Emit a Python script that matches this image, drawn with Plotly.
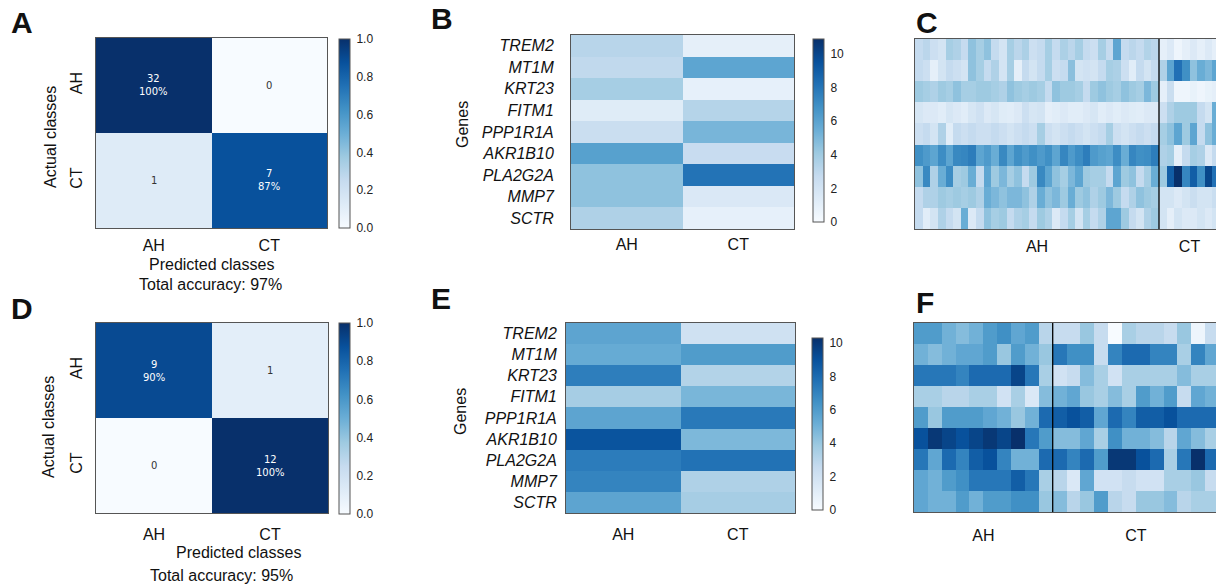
import plotly.graph_objects as go

W, H = 1216, 588

# ---------------- data ----------------
classes = ["AH", "CT"]
genes = ["TREM2", "MT1M", "KRT23", "FITM1", "PPP1R1A", "AKR1B10", "PLA2G2A", "MMP7", "SCTR"]

# confusion matrices (counts, rows = actual, cols = predicted)
cm_train_counts = [[32, 0], [1, 7]]
cm_test_counts = [[9, 1], [0, 12]]
acc_train = "Total accuracy: 97%"
acc_test = "Total accuracy: 95%"

# mean expression per class (panel B, training; panel E, test)
mean_train_AH = [3.2, 2.9, 3.8, 1.3, 2.5, 6.1, 4.5, 4.5, 3.5]
mean_train_CT = [1.0, 5.9, 0.9, 3.3, 5.1, 2.6, 8.1, 1.6, 0.9]
mean_test_AH = [5.6, 5.3, 7.2, 3.6, 5.6, 8.9, 7.3, 7.0, 5.6]
mean_test_CT = [2.1, 6.0, 3.2, 4.8, 7.4, 4.7, 7.7, 3.3, 3.6]

# per-sample expression (panel C: 32 AH + 8 CT training samples)
C_AH = [
    [2.75, 3.1, 2.4, 2.0, 3.8, 3.5, 2.75, 4.5, 3.8, 4.5, 2.75, 2.0, 3.8, 3.1, 3.6, 2.4,
     2.75, 3.8, 2.75, 3.6, 3.1, 3.8, 2.75, 2.4, 3.8, 2.75, 5.9, 2.75, 3.1, 2.75, 3.4, 3.1],
    [2.75, 2.4, 1.0, 2.0, 2.75, 2.4, 2.0, 4.5, 3.8, 2.75, 3.5, 2.0, 3.8, 1.0, 2.75, 2.0,
     2.75, 3.8, 2.4, 2.75, 4.6, 2.0, 2.2, 2.0, 2.75, 3.8, 3.6, 2.4, 1.2, 2.75, 2.0, 2.75],
    [4.1, 3.8, 3.5, 4.1, 3.8, 4.5, 3.8, 3.8, 4.1, 4.1, 3.8, 3.5, 4.5, 4.1, 3.8, 4.1,
     3.8, 2.75, 4.5, 4.1, 4.1, 3.8, 2.75, 4.1, 4.5, 4.1, 3.8, 4.5, 4.1, 3.8, 5.0, 4.1],
    [1.8, 1.5, 1.5, 1.2, 1.8, 1.5, 1.2, 1.8, 2.2, 1.5, 1.8, 1.3, 1.2, 1.5, 2.4, 1.8,
     2.0, 1.0, 1.2, 1.5, 1.2, 1.2, 1.5, 1.8, 1.2, 1.5, 1.2, 1.5, 1.3, 1.2, 1.5, 1.5],
    [2.4, 2.75, 2.0, 3.5, 1.2, 2.75, 2.4, 2.75, 2.4, 2.4, 2.75, 2.4, 2.0, 2.4, 2.75, 2.4,
     3.8, 2.4, 2.0, 2.4, 2.75, 2.4, 2.0, 2.4, 2.75, 3.8, 2.4, 2.0, 2.4, 2.75, 2.4, 2.75],
    [6.9, 6.4, 5.9, 7.0, 5.9, 7.2, 7.3, 7.7, 5.9, 6.4, 5.5, 7.2, 5.9, 6.9, 6.4, 6.9,
     6.4, 6.9, 5.9, 7.3, 6.4, 7.0, 7.7, 6.4, 6.1, 5.9, 7.0, 5.5, 7.3, 6.9, 7.0, 7.7],
    [4.5, 7.2, 3.5, 5.5, 7.0, 3.8, 4.1, 5.5, 2.75, 5.9, 4.1, 5.0, 3.8, 4.5, 2.75, 4.1,
     7.2, 5.9, 4.5, 3.8, 5.0, 5.9, 4.1, 3.8, 3.8, 2.75, 5.9, 4.1, 4.5, 2.75, 3.8, 5.5],
    [2.75, 3.5, 3.5, 4.1, 3.8, 4.1, 3.8, 4.1, 3.5, 5.5, 5.0, 4.5, 5.0, 5.0, 4.5, 3.5,
     5.5, 4.5, 5.0, 4.1, 5.5, 4.1, 4.5, 3.5, 4.1, 5.0, 4.1, 2.75, 3.5, 4.5, 4.1, 3.8],
    [2.75, 1.2, 2.0, 3.5, 2.75, 2.0, 5.5, 1.5, 2.75, 4.5, 3.8, 4.1, 2.75, 3.5, 3.8, 2.75,
     4.1, 3.5, 1.5, 2.75, 3.8, 2.0, 3.8, 2.75, 3.5, 5.9, 5.9, 4.1, 2.75, 2.0, 3.5, 4.1],
]
C_CT = [
    [1.0, 1.5, 0.5, 1.0, 1.5, 1.0, 1.5, 1.0],
    [3.5, 5.9, 8.2, 6.9, 4.5, 5.5, 5.0, 5.9],
    [1.0, 2.5, 0.5, 0.5, 0.8, 0.5, 0.8, 1.0],
    [2.4, 3.5, 4.1, 4.1, 4.1, 2.75, 2.0, 5.5],
    [3.8, 4.5, 5.9, 4.1, 5.9, 2.75, 4.5, 5.5],
    [3.5, 3.8, 1.0, 2.75, 3.8, 3.5, 1.5, 2.75],
    [4.1, 9.0, 10.9, 7.3, 9.0, 6.9, 10.0, 8.2],
    [2.0, 2.0, 1.5, 2.0, 2.5, 2.0, 2.0, 2.5],
    [2.0, 1.0, 2.0, 1.5, 1.5, 2.0, 1.5, 2.0],
]

# per-sample expression (panel F: 10 AH + 12 CT test samples)
F_AH = [
    [6.0, 6.0, 5.0, 4.5, 5.0, 6.0, 6.5, 5.5, 6.0, 3.0],
    [5.0, 4.5, 5.0, 5.5, 5.5, 6.0, 4.0, 6.0, 5.0, 4.0],
    [7.5, 7.5, 7.5, 7.0, 8.0, 8.0, 8.0, 9.5, 7.5, 3.5],
    [3.5, 3.5, 3.0, 3.0, 3.5, 3.5, 2.0, 3.5, 1.5, 4.5],
    [6.0, 4.0, 6.0, 6.0, 6.0, 5.5, 5.0, 4.0, 5.0, 8.0],
    [9.0, 10.0, 9.5, 9.0, 9.5, 10.0, 9.5, 10.3, 7.5, 6.0],
    [7.5, 5.5, 8.0, 7.0, 8.5, 9.0, 7.0, 5.0, 5.0, 8.0],
    [5.5, 5.0, 6.0, 6.5, 7.5, 7.5, 7.5, 8.5, 7.5, 3.5],
    [5.5, 5.0, 5.0, 6.0, 5.0, 6.0, 6.0, 6.5, 6.5, 4.0],
]
F_CT = [
    [2.5, 2.5, 4.0, 2.5, 0.0, 3.5, 3.0, 3.0, 2.5, 4.0, 0.5, 2.5],
    [7.5, 6.5, 6.5, 2.5, 7.0, 8.0, 8.0, 7.0, 7.0, 3.5, 7.0, 5.5],
    [2.0, 2.5, 4.5, 3.5, 2.0, 3.5, 3.5, 3.5, 3.5, 4.5, 3.5, 3.5],
    [5.0, 5.5, 4.0, 3.5, 4.5, 3.5, 6.0, 5.0, 6.0, 2.5, 5.5, 5.0],
    [8.5, 9.0, 8.5, 5.5, 8.0, 7.0, 8.5, 8.5, 9.0, 8.0, 8.0, 8.0],
    [4.5, 4.5, 5.5, 3.5, 6.5, 5.0, 5.0, 4.5, 3.0, 5.5, 4.5, 3.5],
    [8.0, 7.0, 8.0, 6.0, 10.0, 10.0, 9.0, 8.0, 3.5, 7.5, 10.3, 8.0],
    [3.0, 1.5, 5.5, 2.0, 2.0, 2.5, 2.0, 2.0, 3.5, 3.5, 4.0, 2.5],
    [4.5, 3.0, 4.0, 6.0, 3.0, 2.5, 4.0, 4.0, 4.5, 3.0, 3.5, 3.5],
]
zmax_train = 10.9
zmax_test = 10.3

# ---------------- styling ----------------
BLUES = [[0.0, "#f7fbff"], [0.125, "#deebf7"], [0.25, "#c6dbef"], [0.375, "#9ecae1"],
         [0.5, "#6baed6"], [0.625, "#4292c6"], [0.75, "#2171b5"], [0.875, "#08519c"],
         [1.0, "#08306b"]]
FONT = "Liberation Sans, Arial, sans-serif"
FRAME = "#555555"


def px(x):
    return x / W


def py(y):
    return 1 - y / H


def norm_rows(m):
    return [[v / sum(r) for v in r] for r in m]


def colorbar(x0, y0, y1, tickvals, ticktext):
    return dict(x=px(x0), xanchor="left", y=py((y0 + y1) / 2), yanchor="middle",
                len=(y1 - y0) / H, lenmode="fraction", thickness=11, thicknessmode="pixels",
                outlinewidth=1, outlinecolor=FRAME, xpad=0, ypad=0,
                tickvals=tickvals, ticktext=ticktext, ticks="outside", ticklen=4,
                tickcolor="rgba(0,0,0,0)", tickfont=dict(family=FONT, size=12, color="#222"))


fig = go.Figure()

base_ax = dict(showgrid=False, zeroline=False, showline=True, linecolor=FRAME, linewidth=1,
               mirror=True, ticks="outside", tickcolor="rgba(0,0,0,0)",
               tickfont=dict(family=FONT, size=16, color="#111"))

cb01_vals = [0, 0.2, 0.4, 0.6, 0.8, 1.0]
cb01_text = ["%.1f" % v for v in cb01_vals]

# ---- Panel A / D confusion matrices ----
cm_specs = [
    ("x", "y", cm_train_counts, (96, 327, 38, 228), (39, 228), 3),
    ("x4", "y4", cm_test_counts, (96, 328, 323, 513), (323, 514), 7),
]
annotations = []
layout_axes = {}
for xa, ya, counts, (l, r, t, b), (cbt, cbb), xlen in cm_specs:
    z = norm_rows(counts)
    fig.add_trace(go.Heatmap(z=z, x=classes, y=classes, colorscale=BLUES, zmin=0, zmax=1,
                             xaxis=xa, yaxis=ya,
                             colorbar=colorbar(339, cbt, cbb, cb01_vals, cb01_text)))
    for i, rc in enumerate(classes):
        for j, cc in enumerate(classes):
            v = z[i][j]
            txt = str(counts[i][j])
            if i == j:
                txt += "<br>%d%%" % int(v * 100)
            annotations.append(dict(x=cc, y=rc, xref=xa, yref=ya, text=txt, showarrow=False,
                                    font=dict(family="DejaVu Sans", size=10,
                                              color="white" if v > 0.5 else "#333333")))
    xk = "xaxis" + xa[1:]
    yk = "yaxis" + ya[1:]
    layout_axes[xk] = dict(base_ax, domain=[px(l), px(r)], anchor=ya, type="category",
                           categoryarray=classes, ticklen=xlen)
    layout_axes[yk] = dict(base_ax, domain=[py(b), py(t)], anchor=xa, type="category",
                           categoryarray=classes, autorange="reversed", tickangle=-90, ticklen=7)

# ---- Panel B / E mean heatmaps ----
me_specs = [
    ("x2", "y2", mean_train_AH, mean_train_CT, zmax_train, (571, 794, 35, 229), 813, (39, 222), 13, 1),
    ("x5", "y5", mean_test_AH, mean_test_CT, zmax_test, (566, 795, 323, 513), 812, (338, 510), 5, 7),
]
for xa, ya, ah, ct, zmax, (l, r, t, b), cbx, (cbt, cbb), ylen, xlen in me_specs:
    z = [[a, c] for a, c in zip(ah, ct)]
    fig.add_trace(go.Heatmap(z=z, x=classes, y=genes, colorscale=BLUES, zmin=0, zmax=zmax,
                             xaxis=xa, yaxis=ya,
                             colorbar=colorbar(cbx, cbt, cbb, [0, 2, 4, 6, 8, 10],
                                               ["0", "2", "4", "6", "8", "10"])))
    xk = "xaxis" + xa[1:]
    yk = "yaxis" + ya[1:]
    layout_axes[xk] = dict(base_ax, domain=[px(l), px(r)], anchor=ya, type="category",
                           categoryarray=classes, ticklen=xlen)
    layout_axes[yk] = dict(base_ax, domain=[py(b), py(t)], anchor=xa, type="category",
                           categoryarray=genes, autorange="reversed", ticklen=ylen,
                           tickfont=dict(family=FONT, size=16, color="#111", style="italic"))

# ---- Panel C / F per-sample heatmaps ----
ps_specs = [
    ("x3", "y3", C_AH, C_CT, zmax_train, (915, 39, 229), 7.625, 3),
    ("x6", "y6", F_AH, F_CT, zmax_test, (914, 323, 512), 13.87, 9),
]
shapes = []
for xa, ya, zah, zct, zmax, (l, t, b), colw, xlen in ps_specs:
    n_ah = len(zah[0])
    n_ct = len(zct[0])
    z = [ra + rc for ra, rc in zip(zah, zct)]
    xs = list(range(n_ah + n_ct))
    fig.add_trace(go.Heatmap(z=z, x=xs, y=genes, colorscale=BLUES, zmin=0, zmax=zmax,
                             xaxis=xa, yaxis=ya, showscale=False))
    xk = "xaxis" + xa[1:]
    yk = "yaxis" + ya[1:]
    layout_axes[xk] = dict(base_ax, domain=[px(l), 1.0], anchor=ya,
                           range=[-0.5, -0.5 + (W - l) / colw],
                           tickvals=[(n_ah - 1) / 2, n_ah + (n_ct - 1) / 2], ticktext=classes,
                           ticklen=xlen)
    layout_axes[yk] = dict(base_ax, domain=[py(b), py(t)], anchor=xa, type="category",
                           categoryarray=genes, autorange="reversed", showticklabels=False,
                           mirror=False, ticks="")
    shapes.append(dict(type="line", xref=xa, yref=ya + " domain", x0=n_ah - 0.5, x1=n_ah - 0.5,
                       y0=0, y1=1, line=dict(color="black", width=1.3)))


def label(text, x, y, size=16, angle=0, bold=False, xanchor="center"):
    return dict(text="<b>%s</b>" % text if bold else text, x=px(x), y=py(y), xref="paper",
                yref="paper", showarrow=False, textangle=angle, xanchor=xanchor,
                yanchor="middle", font=dict(family=FONT, size=size, color="#111"))


# panel letters
for t_, x_, y_ in [("A", 9, 23), ("B", 429, 19), ("C", 914, 22),
                   ("D", 9, 308), ("E", 429, 298), ("F", 914, 302)]:
    annotations.append(label(t_, x_, y_, size=30, bold=True, xanchor="left"))

# axis titles
annotations += [
    label("Actual classes", 50, 137, angle=-90),
    label("Actual classes", 48, 427, angle=-90),
    label("Predicted classes", 211, 264),
    label(acc_train, 210, 285),
    label("Predicted classes", 238, 552),
    label(acc_test, 221, 575),
    label("Genes", 462, 124, angle=-90),
    label("Genes", 460, 412, angle=-90),
]

fig.update_layout(
    width=W, height=H, margin=dict(l=0, r=0, t=0, b=0),
    paper_bgcolor="white", plot_bgcolor="white",
    annotations=annotations, shapes=shapes,
    **layout_axes,
)

fig.write_html("out.html")
